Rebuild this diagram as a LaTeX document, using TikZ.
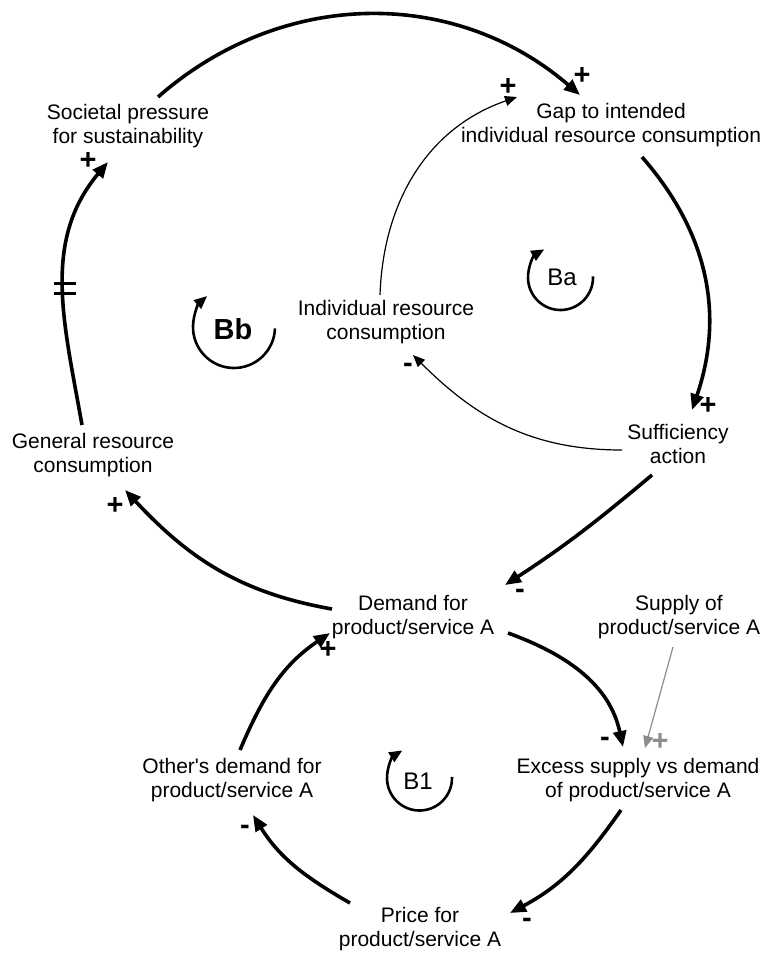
\documentclass[tikz,border=0pt]{standalone}
\usepackage{fontspec}
\setmainfont{Liberation Sans}
\usetikzlibrary{arrows.meta}
\begin{document}
\begin{tikzpicture}[x=1pt,y=1pt,
  var/.style={align=center, inner sep=0pt, font=\fontsize{21}{23.5}\selectfont},
  link/.style={line width=3.6pt, -{Triangle[length=16pt,width=13pt]}},
  thinlink/.style={line width=1.2pt, -{Triangle[length=12pt,width=10pt]}},
  greylink/.style={thinlink, draw=black!45},
  pol/.style={inner sep=0pt, font=\fontsize{29}{29}\selectfont\bfseries},
  loopsym/.style={line width=2.6pt, -{Triangle[length=13pt,width=11pt]}},
  looplbl/.style={inner sep=0pt, font=\fontsize{24}{24}\selectfont},
]
\fill[white] (0,0) rectangle (764,-956);
\useasboundingbox (0,0) rectangle (764,-956);

% variables
\node[var] (soc) at (128,-126) {Societal pressure\\for sustainability};
\node[var] (gap) at (611,-125) {Gap to intended\\individual resource consumption};
\node[var] (ind) at (386,-322) {Individual resource\\consumption};
\node[var] (suf) at (678,-444) {Sufficiency\\action};
\node[var] (gen) at (93,-455) {General resource\\consumption};
\node[var] (dem) at (413,-617) {Demand for\\product/service A};
\node[var] (sup) at (679,-617) {Supply of\\product/service A};
\node[var] (exc) at (638,-780) {Excess supply vs demand\\of product/service A};
\node[var] (oth) at (232,-780) {Other\textquotesingle s demand for\\product/service A};
\node[var] (pri) at (420,-929) {Price for\\product/service A};

% causal links
\draw[link] ([shift={(30,29)}]soc.center) to[bend left=41] ([shift={(-31,30)}]gap.center);
\draw[link] ([shift={(31,-32)}]gap.center) to[bend left=30] ([shift={(14,34)}]suf.center);
\draw[thinlink] ([shift={(-56,-6)}]suf.center) to[out=180,in=-45] ([shift={(27,-33)}]ind.center);
\draw[thinlink] ([shift={(-6,27)}]ind.center) to[out=88,in=-161] ([shift={(-94,28)}]gap.center);
\draw[link] ([shift={(-26,-31)}]suf.center) to[out=-140,in=33] ([shift={(92,32)}]dem.center);
\draw[link] ([shift={(-81,8)}]dem.center) to[out=170,in=-47] ([shift={(32,-35)}]gen.center);
\draw[link] ([shift={(-11,30)}]gen.center) to[out=100,in=-130] ([shift={(-20,-36)}]soc.center);
\draw[link] ([shift={(95,-16)}]dem.center) to[out=-20,in=102] ([shift={(-15,33)}]exc.center);
\draw[greylink] ([shift={(-6,-30)}]sup.center) -- ([shift={(7,32)}]exc.center);
\draw[link] ([shift={(-17,-30)}]exc.center) to[out=-125,in=28] ([shift={(90,16)}]pri.center);
\draw[link] ([shift={(-70,26)}]pri.center) to[out=150,in=-58] ([shift={(21,-35)}]oth.center);
\draw[link] ([shift={(8,30)}]oth.center) to[out=67,in=-146] ([shift={(-83,-16)}]dem.center);

% delay mark
\draw[line width=3pt] (54,-283) -- (76,-283);
\draw[line width=3pt] (54,-293) -- (76,-293);

% polarities
\node[pol] (pA) at (582,-76) {+};
\node[pol] (pB) at (708,-406) {+};
\node[pol] (pC) at (408,-368) {-};
\node[pol] (pD) at (508,-87) {+};
\node[pol] (pE) at (520,-594) {-};
\node[pol] (pF) at (115,-506) {+};
\node[pol] (pG) at (88,-161) {+};
\node[pol] (pH) at (605,-742) {-};
\node[pol, text=black!45] (pI) at (660,-742) {+};
\node[pol] (pJ) at (527,-923) {-};
\node[pol] (pK) at (245,-830) {-};
\node[pol] (pL) at (328,-650) {+};

% loop identifiers
\node[looplbl] (ba) at (562,-277) {Ba};
\draw[loopsym] ([shift={(-1.5,-0.5)}]ba.center) ++(2:32.5pt) arc[start angle=2, end angle=-240, radius=32.5pt];
\node[looplbl, font=\fontsize{29}{29}\selectfont\bfseries] (bb) at (233,-329) {Bb};
\draw[loopsym] ([shift={(1,2)}]bb.center) ++(-2:41pt) arc[start angle=-2, end angle=-229, radius=41pt];
\node[looplbl] (bone) at (418,-781) {B1};
\draw[loopsym] ([shift={(1.5,3)}]bone.center) ++(2:32.5pt) arc[start angle=2, end angle=-238, radius=32.5pt];
\end{tikzpicture}
\end{document}
